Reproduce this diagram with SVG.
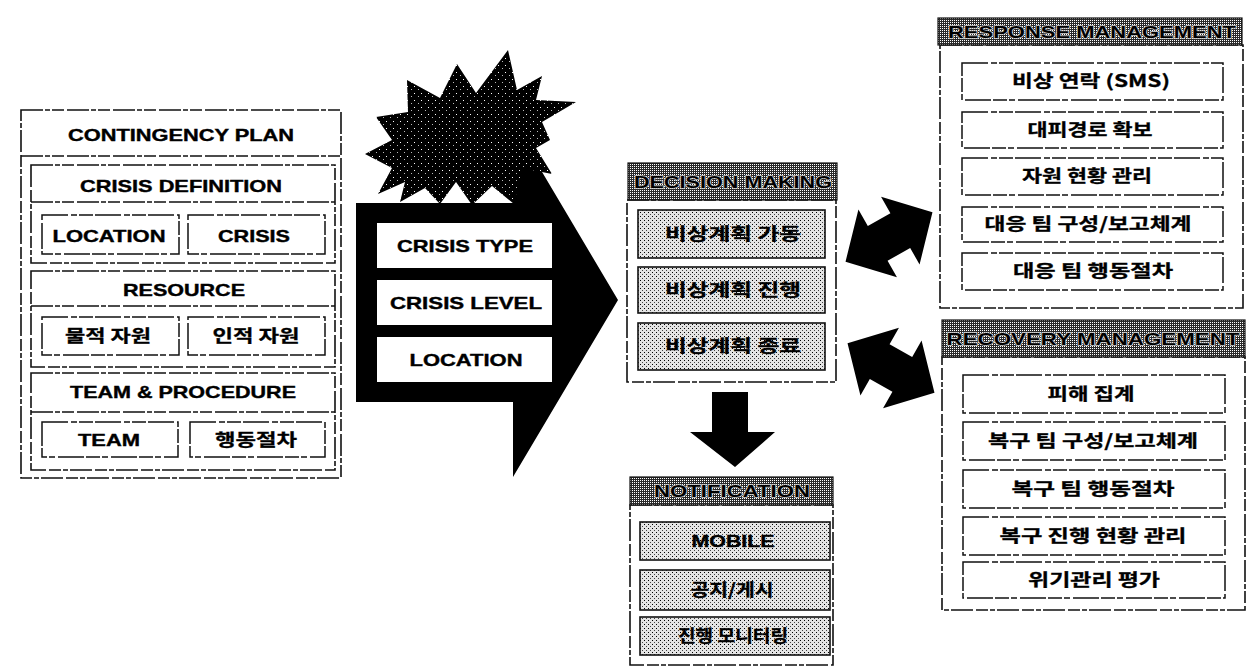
<svg xmlns="http://www.w3.org/2000/svg" width="1253" height="666" viewBox="0 0 1253 666">
<style>
.frame{fill:#fff;stroke:#111;stroke-width:1.6;stroke-dasharray:22 2 5 2 12 3}
.nofill{fill:none;stroke:#111;stroke-width:1.6;stroke-dasharray:22 2 5 2 12 3}
.box{fill:#fff;stroke:#111;stroke-width:1.5;stroke-dasharray:26 3 6 2 14 2}
.stip{fill:url(#stip);stroke:#111;stroke-width:1.6}
.hdr{fill:url(#hdr);stroke:#111;stroke-width:1.2}
.t{font-family:"Liberation Sans","Noto Sans CJK KR",sans-serif;font-weight:bold;font-size:17px;fill:#000;stroke:#000;stroke-width:0.4;text-anchor:middle}
.k{font-family:"Noto Sans CJK KR","Liberation Sans",sans-serif;font-weight:bold;font-size:17px;fill:#000;stroke:#000;stroke-width:0.3;text-anchor:middle}
.ht{font-family:"Liberation Sans",sans-serif;font-weight:bold;font-size:17px;fill:#000;stroke:#cfcfcf;stroke-width:1.4;paint-order:stroke;text-anchor:middle}
.blk{fill:#000}
</style>
<defs>
<pattern id="hdr" width="2" height="2" patternUnits="userSpaceOnUse"><rect width="2" height="2" fill="#2a2a2a"/><rect width="1" height="1" fill="#fff"/></pattern>
<pattern id="stip" width="4" height="4" patternUnits="userSpaceOnUse"><rect width="4" height="4" fill="#e4e4e4"/><rect width="1" height="1" fill="#000"/><rect x="2" y="2" width="1" height="1" fill="#444"/></pattern>
<pattern id="burst" width="7" height="7" patternUnits="userSpaceOnUse"><rect width="7" height="7" fill="#000"/><rect x="1" y="2" width="1" height="1" fill="#fff"/><rect x="5" y="5" width="1" height="1" fill="#bbb"/></pattern>
</defs>

<!-- Left panel -->
<g id="contingency-plan">
<rect class="frame" x="21" y="110" width="320" height="368"/>
<line class="nofill" x1="21" y1="156" x2="342" y2="156"/>
<text class="t" x="181" y="141" textLength="226" lengthAdjust="spacingAndGlyphs">CONTINGENCY PLAN</text>
</g>
<g id="crisis-definition">
<rect class="frame" x="31" y="165" width="304" height="98"/>
<line class="nofill" x1="31" y1="202" x2="335" y2="202"/>
<text class="t" x="181" y="192" textLength="202" lengthAdjust="spacingAndGlyphs">CRISIS DEFINITION</text>
<rect class="box" x="42" y="215" width="137" height="39"/>
<text class="t" x="109" y="242" textLength="113" lengthAdjust="spacingAndGlyphs">LOCATION</text>
<rect class="box" x="188" y="215" width="137" height="39"/>
<text class="t" x="254" y="242" textLength="72" lengthAdjust="spacingAndGlyphs">CRISIS</text>
</g>
<g id="resource">
<rect class="frame" x="31" y="271" width="304" height="96"/>
<line class="nofill" x1="31" y1="306" x2="335" y2="306"/>
<text class="t" x="184" y="296" textLength="122" lengthAdjust="spacingAndGlyphs">RESOURCE</text>
<rect class="box" x="42" y="317" width="137" height="38"/>
<text class="k" x="108" y="342" textLength="86" lengthAdjust="spacingAndGlyphs">물적 자원</text>
<rect class="box" x="188" y="317" width="137" height="38"/>
<text class="k" x="256" y="342" textLength="87" lengthAdjust="spacingAndGlyphs">인적 자원</text>
</g>
<g id="team-procedure">
<rect class="frame" x="31" y="373" width="304" height="97"/>
<line class="nofill" x1="31" y1="412" x2="335" y2="412"/>
<text class="t" x="183" y="398" textLength="226" lengthAdjust="spacingAndGlyphs">TEAM &amp; PROCEDURE</text>
<rect class="box" x="42" y="422" width="136" height="35"/>
<text class="t" x="109" y="446" textLength="62" lengthAdjust="spacingAndGlyphs">TEAM</text>
<rect class="box" x="190" y="422" width="135" height="35"/>
<text class="k" x="256" y="446" textLength="82" lengthAdjust="spacingAndGlyphs">행동절차</text>
</g>

<!-- Connectors -->
<g id="connectors">
<polygon class="blk" points="356,203 513,203 513,123 618,300 513,477 513,402 356,402"/>
<polygon class="blk" points="735,467 690,432 712,432 712,392 748,392 748,432 775,432"/>
<polygon class="blk" transform="translate(889,237) rotate(-29.6)" points="50,0 13,-39 13,-20 -13,-20 -13,-39 -50,0 -13,39 -13,20 13,20 13,39"/>
<polygon class="blk" transform="translate(891,368) rotate(29.6)" points="50,0 13,-39 13,-20 -13,-20 -13,-39 -50,0 -13,39 -13,20 13,20 13,39"/>
</g>

<!-- Crisis starburst + inputs -->
<g id="crisis-burst">
<polygon fill="url(#burst)" points="508,50 517,90 542,76 536,100 576,102 542,122 550,140 536,148 552,174 522,168 514,204 492,186 472,205 456,182 440,204 425,188 400,202 405,182 378,194 392,168 365,154 392,140 376,117 408,112 407,80 440,98 457,64 476,93"/>
</g>
<g id="crisis-type">
<rect fill="#fff" x="377" y="223" width="175" height="45"/>
<text class="t" x="465" y="252" textLength="136" lengthAdjust="spacingAndGlyphs">CRISIS TYPE</text>
</g>
<g id="crisis-level">
<rect fill="#fff" x="377" y="280" width="175" height="45"/>
<text class="t" x="466" y="309" textLength="152" lengthAdjust="spacingAndGlyphs">CRISIS LEVEL</text>
</g>
<g id="crisis-location">
<rect fill="#fff" x="377" y="337" width="175" height="45"/>
<text class="t" x="466" y="366" textLength="113" lengthAdjust="spacingAndGlyphs">LOCATION</text>
</g>

<!-- Decision making -->
<g id="decision-making">
<rect class="frame" x="627" y="200" width="209" height="182"/>
<rect class="hdr" x="628" y="163" width="209" height="37"/>
<text class="ht" x="733" y="188" textLength="198" lengthAdjust="spacingAndGlyphs">DECISION MAKING</text>
<rect class="stip" x="638" y="210" width="187" height="48"/>
<text class="k" x="733" y="240" textLength="136" lengthAdjust="spacingAndGlyphs">비상계획 가동</text>
<rect class="stip" x="638" y="267" width="187" height="46"/>
<text class="k" x="733" y="296" textLength="136" lengthAdjust="spacingAndGlyphs">비상계획 진행</text>
<rect class="stip" x="638" y="323" width="187" height="47"/>
<text class="k" x="733" y="352" textLength="136" lengthAdjust="spacingAndGlyphs">비상계획 종료</text>
</g>

<!-- Notification -->
<g id="notification">
<rect class="frame" x="630" y="505" width="203" height="160"/>
<rect class="hdr" x="630" y="477" width="203" height="28"/>
<text class="ht" x="732" y="497" textLength="156" lengthAdjust="spacingAndGlyphs">NOTIFICATION</text>
<rect class="stip" x="640" y="522" width="190" height="38"/>
<text class="t" x="733" y="547" textLength="83" lengthAdjust="spacingAndGlyphs">MOBILE</text>
<rect class="stip" x="640" y="570" width="190" height="40"/>
<text class="k" x="732" y="596" textLength="83" lengthAdjust="spacingAndGlyphs">공지/게시</text>
<rect class="stip" x="640" y="617" width="190" height="38"/>
<text class="k" x="733" y="642" textLength="110" lengthAdjust="spacingAndGlyphs">진행 모니터링</text>
</g>

<!-- Response management -->
<g id="response-management">
<rect class="frame" x="940" y="45" width="303" height="263"/>
<rect class="hdr" x="938" y="18" width="304" height="27"/>
<text class="ht" x="1092" y="38" textLength="288" lengthAdjust="spacingAndGlyphs">RESPONSE MANAGEMENT</text>
<rect class="box" x="962" y="63" width="261" height="37"/>
<text class="k" x="1091" y="87" textLength="158" lengthAdjust="spacingAndGlyphs">비상 연락 (SMS)</text>
<rect class="box" x="962" y="112" width="261" height="36"/>
<text class="k" x="1090" y="136" textLength="125" lengthAdjust="spacingAndGlyphs">대피경로 확보</text>
<rect class="box" x="962" y="158" width="261" height="37"/>
<text class="k" x="1087" y="182" textLength="130" lengthAdjust="spacingAndGlyphs">자원 현황 관리</text>
<rect class="box" x="962" y="207" width="261" height="35"/>
<text class="k" x="1088" y="230" textLength="207" lengthAdjust="spacingAndGlyphs">대응 팀 구성/보고체계</text>
<rect class="box" x="962" y="253" width="261" height="37"/>
<text class="k" x="1093" y="277" textLength="160" lengthAdjust="spacingAndGlyphs">대응 팀 행동절차</text>
</g>

<!-- Recovery management -->
<g id="recovery-management">
<rect class="frame" x="942" y="357" width="303" height="253"/>
<rect class="hdr" x="942" y="320" width="303" height="37"/>
<text class="ht" x="1093" y="345" textLength="293" lengthAdjust="spacingAndGlyphs">RECOVERY MANAGEMENT</text>
<rect class="box" x="963" y="375" width="262" height="38"/>
<text class="k" x="1091" y="400" textLength="87" lengthAdjust="spacingAndGlyphs">피해 집계</text>
<rect class="box" x="963" y="422" width="262" height="38"/>
<text class="k" x="1093" y="447" textLength="210" lengthAdjust="spacingAndGlyphs">복구 팀 구성/보고체계</text>
<rect class="box" x="963" y="470" width="262" height="38"/>
<text class="k" x="1093" y="495" textLength="163" lengthAdjust="spacingAndGlyphs">복구 팀 행동절차</text>
<rect class="box" x="963" y="517" width="262" height="38"/>
<text class="k" x="1093" y="542" textLength="187" lengthAdjust="spacingAndGlyphs">복구 진행 현황 관리</text>
<rect class="box" x="963" y="562" width="262" height="36"/>
<text class="k" x="1094" y="586" textLength="132" lengthAdjust="spacingAndGlyphs">위기관리 평가</text>
</g>
</svg>
